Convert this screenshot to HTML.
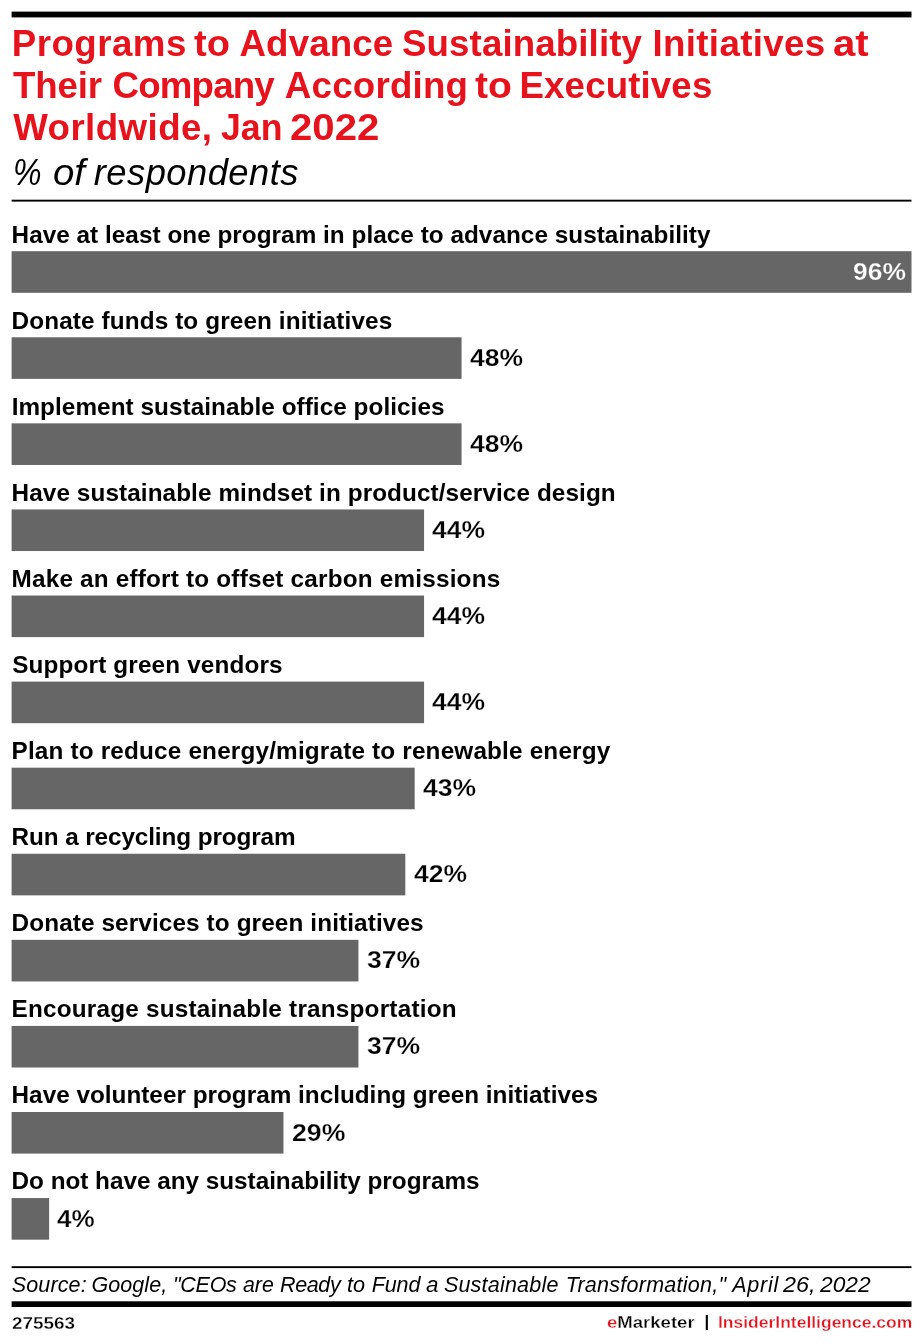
<!DOCTYPE html>
<html lang="en">
<head>
<meta charset="utf-8">
<title>Programs to Advance Sustainability Initiatives at Their Company According to Executives Worldwide, Jan 2022</title>
<style>
html,body{margin:0;padding:0;background:#fff;}
body{width:922px;height:1344px;position:relative;overflow:hidden;font-family:"Liberation Sans",Arial,sans-serif;color:#000;}
#chart{position:absolute;left:0;top:0;width:922px;height:1344px;}
svg{position:absolute;left:0;top:0;}
.t{position:absolute;white-space:nowrap;line-height:1;margin:0;padding:0;font-weight:bold;transform-origin:0 0;}
.g{margin:0;padding:0;font-size:0;line-height:0;font-weight:normal;}
.t{display:block;}
.i{font-style:italic;font-weight:normal;}
.n{font-weight:normal;}
</style>
</head>
<body>
<div id="chart">
<svg width="922" height="1344" viewBox="0 0 922 1344" shape-rendering="auto">
<rect x="11.6" y="11.6" width="899.9" height="5.8" fill="#000"/>
<rect x="11.6" y="199.7" width="899.9" height="1.9" fill="#000"/>
<rect x="11.6" y="251.20" width="899.90" height="41.6" fill="#666666"/>
<rect x="11.6" y="337.28" width="449.95" height="41.6" fill="#666666"/>
<rect x="11.6" y="423.36" width="449.95" height="41.6" fill="#666666"/>
<rect x="11.6" y="509.44" width="412.46" height="41.6" fill="#666666"/>
<rect x="11.6" y="595.52" width="412.46" height="41.6" fill="#666666"/>
<rect x="11.6" y="681.60" width="412.46" height="41.6" fill="#666666"/>
<rect x="11.6" y="767.68" width="403.08" height="41.6" fill="#666666"/>
<rect x="11.6" y="853.76" width="393.71" height="41.6" fill="#666666"/>
<rect x="11.6" y="939.84" width="346.84" height="41.6" fill="#666666"/>
<rect x="11.6" y="1025.92" width="346.84" height="41.6" fill="#666666"/>
<rect x="11.6" y="1112.00" width="271.85" height="41.6" fill="#666666"/>
<rect x="11.6" y="1198.08" width="37.50" height="41.6" fill="#666666"/>
<rect x="11.6" y="1266.2" width="899.9" height="1.9" fill="#000"/>
<rect x="11.6" y="1301.3" width="899.9" height="5.7" fill="#000"/>
</svg>
<h1 class="g">
<span class="t" id="t1_0" style="left:11.80px;top:26.23px;font-size:36.7px;color:#e7121c;letter-spacing:0.461px;">Programs </span>
<span class="t" id="t1_1" style="left:193.89px;top:26.23px;font-size:36.7px;color:#e7121c;transform:scaleX(1.0375);">to </span>
<span class="t" id="t1_2" style="left:239.45px;top:26.23px;font-size:36.7px;color:#e7121c;letter-spacing:0.147px;">Advance </span>
<span class="t" id="t1_3" style="left:401.95px;top:26.23px;font-size:36.7px;color:#e7121c;letter-spacing:0.116px;">Sustainability </span>
<span class="t" id="t1_4" style="left:652.46px;top:26.23px;font-size:36.7px;color:#e7121c;letter-spacing:0.347px;">Initiatives </span>
<span class="t" id="t1_5" style="left:833.36px;top:26.23px;font-size:36.7px;color:#e7121c;transform:scaleX(1.0938);">at</span>
<span class="t" id="t2_0" style="left:13.00px;top:67.83px;font-size:36.7px;color:#e7121c;letter-spacing:-0.169px;">Their </span>
<span class="t" id="t2_1" style="left:112.58px;top:67.83px;font-size:36.7px;color:#e7121c;letter-spacing:-0.835px;">Company </span>
<span class="t" id="t2_2" style="left:284.87px;top:67.83px;font-size:36.7px;color:#e7121c;letter-spacing:0.206px;">According </span>
<span class="t" id="t2_3" style="left:475.49px;top:67.83px;font-size:36.7px;color:#e7121c;transform:scaleX(1.0642);">to </span>
<span class="t" id="t2_4" style="left:519.51px;top:67.83px;font-size:36.7px;color:#e7121c;letter-spacing:0.120px;">Executives</span>
<span class="t" id="t3_0" style="left:13.20px;top:109.63px;font-size:36.7px;color:#e7121c;letter-spacing:0.422px;">Worldwide, </span>
<span class="t" id="t3_1" style="left:220.70px;top:109.63px;font-size:36.7px;color:#e7121c;transform:scaleX(0.9712);">Jan </span>
<span class="t" id="t3_2" style="left:289.86px;top:109.63px;font-size:36.7px;color:#e7121c;transform:scaleX(1.0938);">2022</span>
</h1>
<h2 class="g">
<span class="t i" id="sub_0" style="left:12.93px;top:154.57px;font-size:36.3px;transform:scaleX(0.8828);">% </span>
<span class="t i" id="sub_1" style="left:52.72px;top:154.57px;font-size:36.3px;transform:scaleX(1.0576);">of </span>
<span class="t i" id="sub_2" style="left:93.77px;top:154.57px;font-size:36.3px;letter-spacing:0.481px;">respondents</span>
</h2>
<div class="g rows">
<span class="t" id="l1" style="left:11.55px;top:223.23px;font-size:24.3px;letter-spacing:0.037px;">Have at least one program in place to advance sustainability</span>
<span class="t" id="v1" style="left:852.93px;top:259.95px;font-size:24.4px;color:#fff;-webkit-text-stroke:0.25px #666666;transform:scaleX(1.0831);">96%</span>
<span class="t" id="l2" style="left:11.55px;top:309.28px;font-size:24.3px;letter-spacing:0.125px;">Donate funds to green initiatives</span>
<span class="t" id="v2" style="left:469.74px;top:346.03px;font-size:24.4px;-webkit-text-stroke:0.25px #fff;transform:scaleX(1.0865);">48%</span>
<span class="t" id="l3" style="left:11.65px;top:395.33px;font-size:24.3px;letter-spacing:0.060px;">Implement sustainable office policies</span>
<span class="t" id="v3" style="left:469.74px;top:432.11px;font-size:24.4px;-webkit-text-stroke:0.25px #fff;transform:scaleX(1.0865);">48%</span>
<span class="t" id="l4" style="left:11.55px;top:481.38px;font-size:24.3px;letter-spacing:0.094px;">Have sustainable mindset in product/service design</span>
<span class="t" id="v4" style="left:431.87px;top:518.19px;font-size:24.4px;-webkit-text-stroke:0.25px #fff;transform:scaleX(1.0865);">44%</span>
<span class="t" id="l5" style="left:11.55px;top:567.43px;font-size:24.3px;letter-spacing:0.200px;">Make an effort to offset carbon emissions</span>
<span class="t" id="v5" style="left:431.87px;top:604.27px;font-size:24.4px;-webkit-text-stroke:0.25px #fff;transform:scaleX(1.0865);">44%</span>
<span class="t" id="l6" style="left:12.26px;top:653.48px;font-size:24.3px;letter-spacing:0.151px;">Support green vendors</span>
<span class="t" id="v6" style="left:431.87px;top:690.35px;font-size:24.4px;-webkit-text-stroke:0.25px #fff;transform:scaleX(1.0865);">44%</span>
<span class="t" id="l7" style="left:11.55px;top:738.53px;font-size:24.3px;letter-spacing:0.180px;">Plan to reduce energy/migrate to renewable energy</span>
<span class="t" id="v7" style="left:423.30px;top:776.43px;font-size:24.4px;-webkit-text-stroke:0.25px #fff;transform:scaleX(1.0865);">43%</span>
<span class="t" id="l8" style="left:11.55px;top:824.58px;font-size:24.3px;letter-spacing:-0.098px;">Run a recycling program</span>
<span class="t" id="v8" style="left:413.95px;top:861.51px;font-size:24.4px;-webkit-text-stroke:0.25px #fff;transform:scaleX(1.0865);">42%</span>
<span class="t" id="l9" style="left:11.55px;top:910.63px;font-size:24.3px;letter-spacing:0.121px;">Donate services to green initiatives</span>
<span class="t" id="v9" style="left:366.78px;top:947.59px;font-size:24.4px;-webkit-text-stroke:0.25px #fff;transform:scaleX(1.0906);">37%</span>
<span class="t" id="l10" style="left:11.55px;top:996.68px;font-size:24.3px;letter-spacing:0.217px;">Encourage sustainable transportation</span>
<span class="t" id="v10" style="left:366.78px;top:1033.67px;font-size:24.4px;-webkit-text-stroke:0.25px #fff;transform:scaleX(1.0906);">37%</span>
<span class="t" id="l11" style="left:11.55px;top:1082.73px;font-size:24.3px;letter-spacing:0.010px;">Have volunteer program including green initiatives</span>
<span class="t" id="v11" style="left:291.65px;top:1120.75px;font-size:24.4px;-webkit-text-stroke:0.25px #fff;transform:scaleX(1.0928);">29%</span>
<span class="t" id="l12" style="left:11.55px;top:1168.78px;font-size:24.3px;letter-spacing:-0.014px;">Do not have any sustainability programs</span>
<span class="t" id="v12" style="left:56.73px;top:1206.83px;font-size:24.4px;-webkit-text-stroke:0.25px #fff;transform:scaleX(1.0688);">4%</span>
</div>
<p class="g">
<span class="t i" id="src_0" style="left:11.70px;top:1275.20px;font-size:21.5px;letter-spacing:0.153px;">Source: </span>
<span class="t i" id="src_1" style="left:91.62px;top:1275.20px;font-size:21.5px;letter-spacing:0.036px;">Google, </span>
<span class="t i" id="src_2" style="left:173.05px;top:1275.20px;font-size:21.5px;letter-spacing:-0.306px;">&quot;CEOs </span>
<span class="t i" id="src_3" style="left:242.51px;top:1275.20px;font-size:21.5px;transform:scaleX(0.9916);">are </span>
<span class="t i" id="src_4" style="left:280.04px;top:1275.20px;font-size:21.5px;letter-spacing:-0.381px;">Ready </span>
<span class="t i" id="src_5" style="left:346.87px;top:1275.20px;font-size:21.5px;transform:scaleX(1.0066);">to </span>
<span class="t i" id="src_6" style="left:371.64px;top:1275.20px;font-size:21.5px;letter-spacing:-0.047px;">Fund </span>
<span class="t i" id="src_7" style="left:425.71px;top:1275.20px;font-size:21.5px;transform:scaleX(1.0417);">a </span>
<span class="t i" id="src_8" style="left:443.88px;top:1275.20px;font-size:21.5px;letter-spacing:0.219px;">Sustainable </span>
<span class="t i" id="src_9" style="left:565.64px;top:1275.20px;font-size:21.5px;letter-spacing:0.259px;">Transformation,&quot; </span>
<span class="t i" id="src_10" style="left:732.23px;top:1275.20px;font-size:21.5px;letter-spacing:0.744px;">April </span>
<span class="t i" id="src_11" style="left:783.02px;top:1275.20px;font-size:21.5px;transform:scaleX(1.0878);">26, </span>
<span class="t i" id="src_12" style="left:819.83px;top:1275.20px;font-size:21.5px;transform:scaleX(1.0585);">2022</span>
</p>
<div class="g footer">
<span class="t" id="id" style="left:11.55px;top:1314.87px;font-size:17.4px;-webkit-text-stroke:0.3px #fff;transform:scaleX(1.0861);">275563</span>
<span class="t" id="em" style="left:607.21px;top:1313.87px;font-size:17.4px;-webkit-text-stroke:0.3px #fff;transform:scaleX(1.0667);"><span style="color:#e7121c">e</span>Marketer</span>
<span class="t" id="bar" style="left:704.50px;top:1313.65px;font-size:16.6px;">|</span>
<span class="t" id="ii" style="left:718.16px;top:1314.04px;font-size:17.2px;color:#e7121c;-webkit-text-stroke:0.3px #fff;transform:scaleX(1.0170);">InsiderIntelligence.com</span>
</div>
</div>
</body>
</html>
